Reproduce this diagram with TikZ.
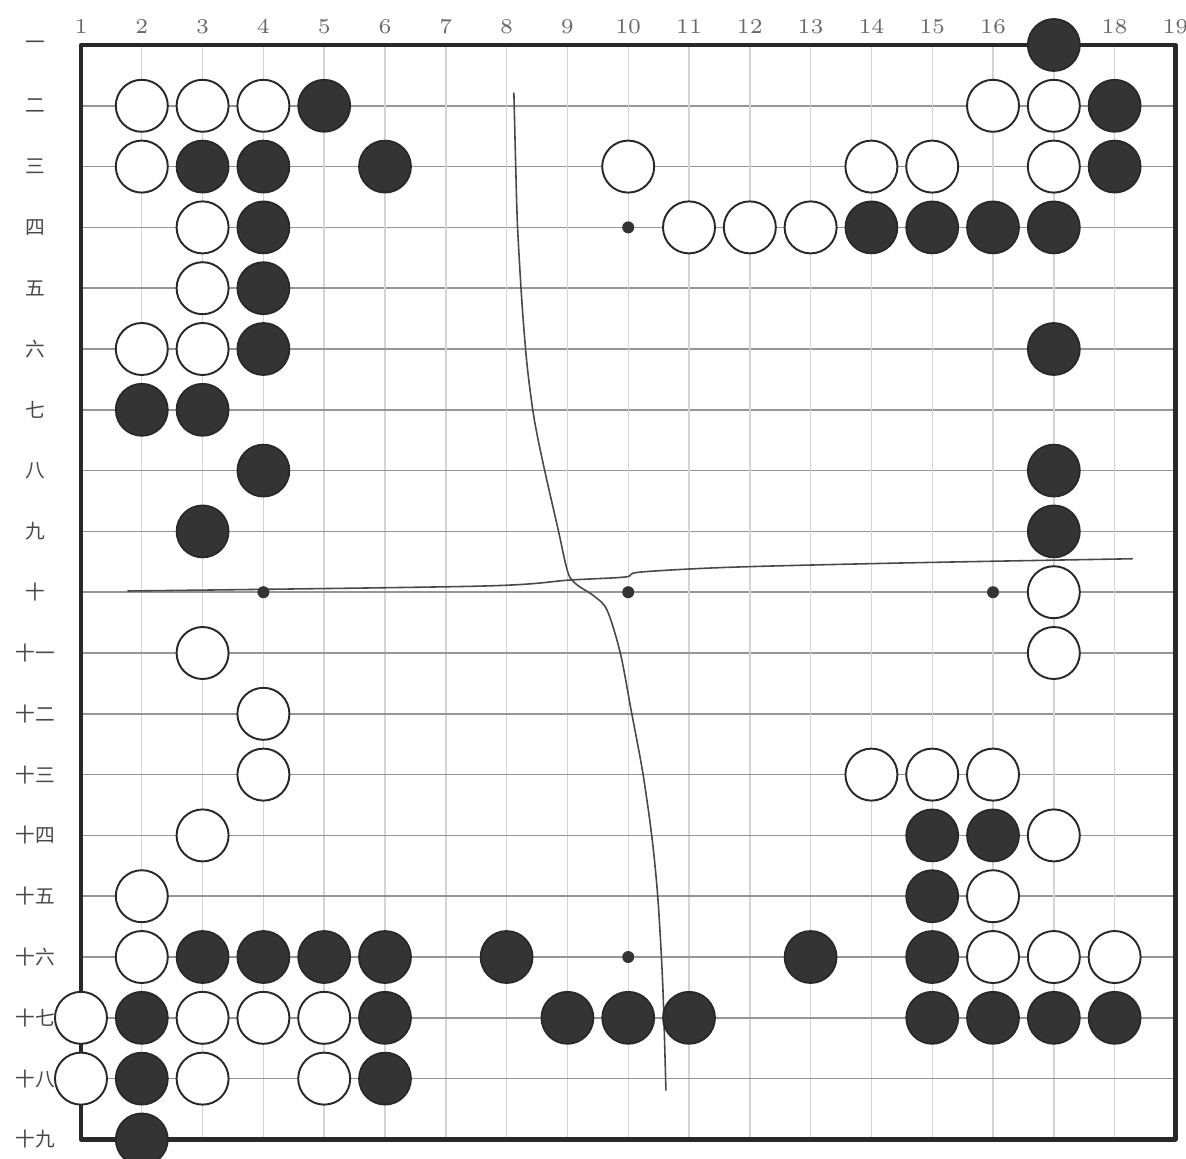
\documentclass[tikz,border=0pt]{standalone}
\usepackage{fontspec}
\newfontfamily\cjk{Noto Sans CJK SC}
\usetikzlibrary{positioning}
\definecolor{ink}{RGB}{40,40,40}
\definecolor{stone}{RGB}{52,52,52}
\definecolor{mu}{RGB}{105,105,105}
\definecolor{gridv}{RGB}{212,212,212}
\definecolor{gridh}{RGB}{150,150,150}
\tikzset{
  every picture/.style={line cap=round, line join=round},
  % Brett
  frame/.style={ink, line width=1.2pt},
  vline/.style={gridv, line width=0.4pt},
  hline/.style={gridh, line width=0.45pt},
  crease/.style={ink!85, line width=0.45pt},
  % Steine
  bstone/.style={circle, fill=stone, draw=ink, line width=0.5pt, inner sep=0pt, minimum size=0.52cm},
  wstone/.style={circle, fill=white, draw=ink, line width=0.55pt, inner sep=0pt, minimum size=0.52cm},
  hoshi/.style={circle, fill=stone, inner sep=0pt, minimum size=0.12cm},
  % Beschriftung
  collbl/.style={mu, font=\fontsize{6}{7}\selectfont},
  rowlbl/.style={ink!85, inner sep=1pt, font=\cjk\fontsize{5.6}{7}\selectfont},
}

\begin{document}
\begin{tikzpicture}[x=0.608cm, y=-0.608cm]
  \useasboundingbox (-0.332,0.26) rectangle (19.174,19.32);
  % Gitter
  \foreach \i in {1,...,19} {
    \draw[vline] (\i,1) -- (\i,19);
    \draw[hline] (1,\i) -- (19,\i);
  }
  \draw[frame] (1,1) rectangle (19,19);
  % Falzlinien aus dem Scan
  \draw[crease] plot[smooth] coordinates {(8.12,1.79) (8.15,3.00) (8.18,3.99) (8.25,5.20) (8.33,6.20)
    (8.43,7.00) (8.52,7.50) (8.66,8.15) (8.85,8.98) (9.01,9.68) (9.16,9.88) (9.42,10.05) (9.65,10.29)
    (9.87,11.00) (10.05,11.95) (10.24,12.97) (10.39,14.03) (10.49,15.06) (10.57,16.50) (10.62,18.19)};
  \draw[crease] plot[smooth] coordinates {(1.77,9.98) (7.56,9.90) (9.04,9.80) (9.95,9.75) (10.19,9.67)
    (11.67,9.59) (14.47,9.52) (18.29,9.45)};
  % Koordinaten
  \foreach \c in {1,...,16,18,19}
    \node[collbl] (col\c) at (\c,0.70) {\c};
  \foreach \r/\t in {1/一,2/二,3/三,4/四,5/五,6/六,7/七,8/八,9/九,10/十,
      11/十一,12/十二,13/十三,14/十四,15/十五,16/十六,17/十七,18/十八,19/十九}
    \node[rowlbl] (row\r) at (0.25,\r) {\t};
  % Sternpunkte
  \foreach \c/\r in {4/10,10/10,16/10,10/4,10/16}
    \node[hoshi] (hoshi\c-\r) at (\c,\r) {};
  % schwarze Steine
  \foreach \c/\r in {17/1,5/2,18/2,3/3,4/3,6/3,18/3,4/4,14/4,15/4,16/4,17/4,4/5,4/6,17/6,
      2/7,3/7,4/8,17/8,3/9,17/9,15/14,16/14,15/15,3/16,4/16,5/16,6/16,8/16,13/16,15/16,
      2/17,6/17,9/17,10/17,11/17,15/17,16/17,17/17,18/17,2/18,6/18,2/19}
    \node[bstone] (b\c-\r) at (\c,\r) {};
  % weisse Steine
  \foreach \c/\r in {2/2,3/2,4/2,16/2,17/2,2/3,10/3,14/3,15/3,17/3,3/4,11/4,12/4,13/4,3/5,
      2/6,3/6,17/10,3/11,17/11,4/12,4/13,14/13,15/13,16/13,3/14,17/14,2/15,16/15,
      2/16,16/16,17/16,18/16,1/17,3/17,4/17,5/17,1/18,3/18,5/18}
    \node[wstone] (w\c-\r) at (\c,\r) {};
\end{tikzpicture}
\end{document}
